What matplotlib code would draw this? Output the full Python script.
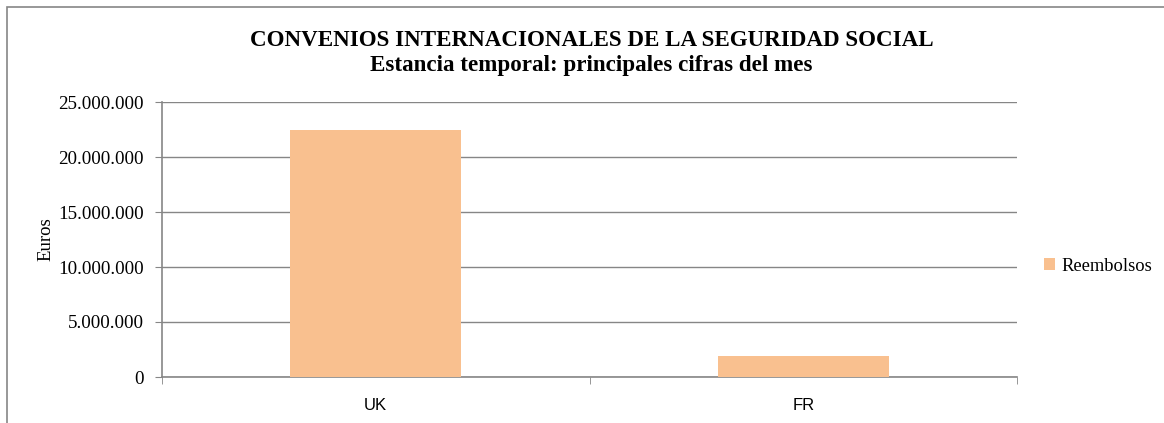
import matplotlib
matplotlib.use("Agg")
import matplotlib.pyplot as plt
from matplotlib.ticker import FuncFormatter
from matplotlib.patches import Rectangle

categories = ["UK", "FR"]
reembolsos = [22450000, 1950000]
yticks = [0, 5000000, 10000000, 15000000, 20000000, 25000000]

W, H = 1164, 423
fig = plt.figure(figsize=(W/100, H/100), dpi=100)
ax = fig.add_axes([162/W, 1-377/H, (1017-162)/W, (377-102)/H])

gray = "#868686"
bar_color = "#F9C08F"
serif = "Liberation Serif"
sans = "Liberation Sans"

x = list(range(len(categories)))
ax.bar(x, reembolsos, width=0.4, color=bar_color, zorder=3, label="Reembolsos")
ax.set_xlim(-0.5, len(categories) - 0.5)
ax.set_ylim(0, 25000000)
ax.set_yticks(yticks)
ax.yaxis.set_major_formatter(FuncFormatter(lambda v, p: f"{int(v):,}".replace(",", ".")))
ax.grid(axis="y", color=gray, linewidth=1, zorder=0)
ax.set_axisbelow(True)

ax.set_xticks(x)
ax.set_xticklabels(categories, fontfamily=sans, fontsize=12)
ax.set_xticks([-0.5, 0.5, 1.5], minor=True)
ax.tick_params(axis="x", which="major", length=0, pad=15)
ax.tick_params(axis="x", which="minor", length=5, color=gray, direction="out")
ax.tick_params(axis="y", length=5, color=gray, direction="out", pad=8)
for lab in ax.get_yticklabels():
    lab.set_fontfamily(serif)
    lab.set_fontsize(13.7)

for s in ["top", "right"]:
    ax.spines[s].set_visible(False)
for s in ["left", "bottom"]:
    ax.spines[s].set_color(gray)
    ax.spines[s].set_linewidth(1.2)

ax.set_ylabel("Euros", fontfamily=serif, fontsize=13.5)
ax.yaxis.set_label_coords(46/W, 0.5 * (1 - 102/H + 1 - 377/H), transform=fig.transFigure)
ax.yaxis.label.set_verticalalignment("center")

tx = 0.5 * (248 + 935) / W
fig.text(tx, 1 - 40/H, "CONVENIOS INTERNACIONALES DE LA SEGURIDAD SOCIAL",
         ha="center", va="center", fontfamily=serif, fontweight="bold", fontsize=16.6)
fig.text(tx, 1 - 65/H, "Estancia temporal: principales cifras del mes",
         ha="center", va="center", fontfamily=serif, fontweight="bold", fontsize=16.6)

ax.legend(loc="center left", bbox_to_anchor=(1037/W, 1 - 266/H), bbox_transform=fig.transFigure,
          frameon=False, prop={"family": serif, "size": 13.3}, handlelength=0.6, handleheight=0.6,
          handletextpad=0.3, borderaxespad=0)

fig.add_artist(Rectangle((7/W, -0.1), 1.2, 1 - 7/H + 0.1, transform=fig.transFigure,
                         fill=False, edgecolor=gray, linewidth=1.2))

fig.savefig("out.png", dpi=100)
